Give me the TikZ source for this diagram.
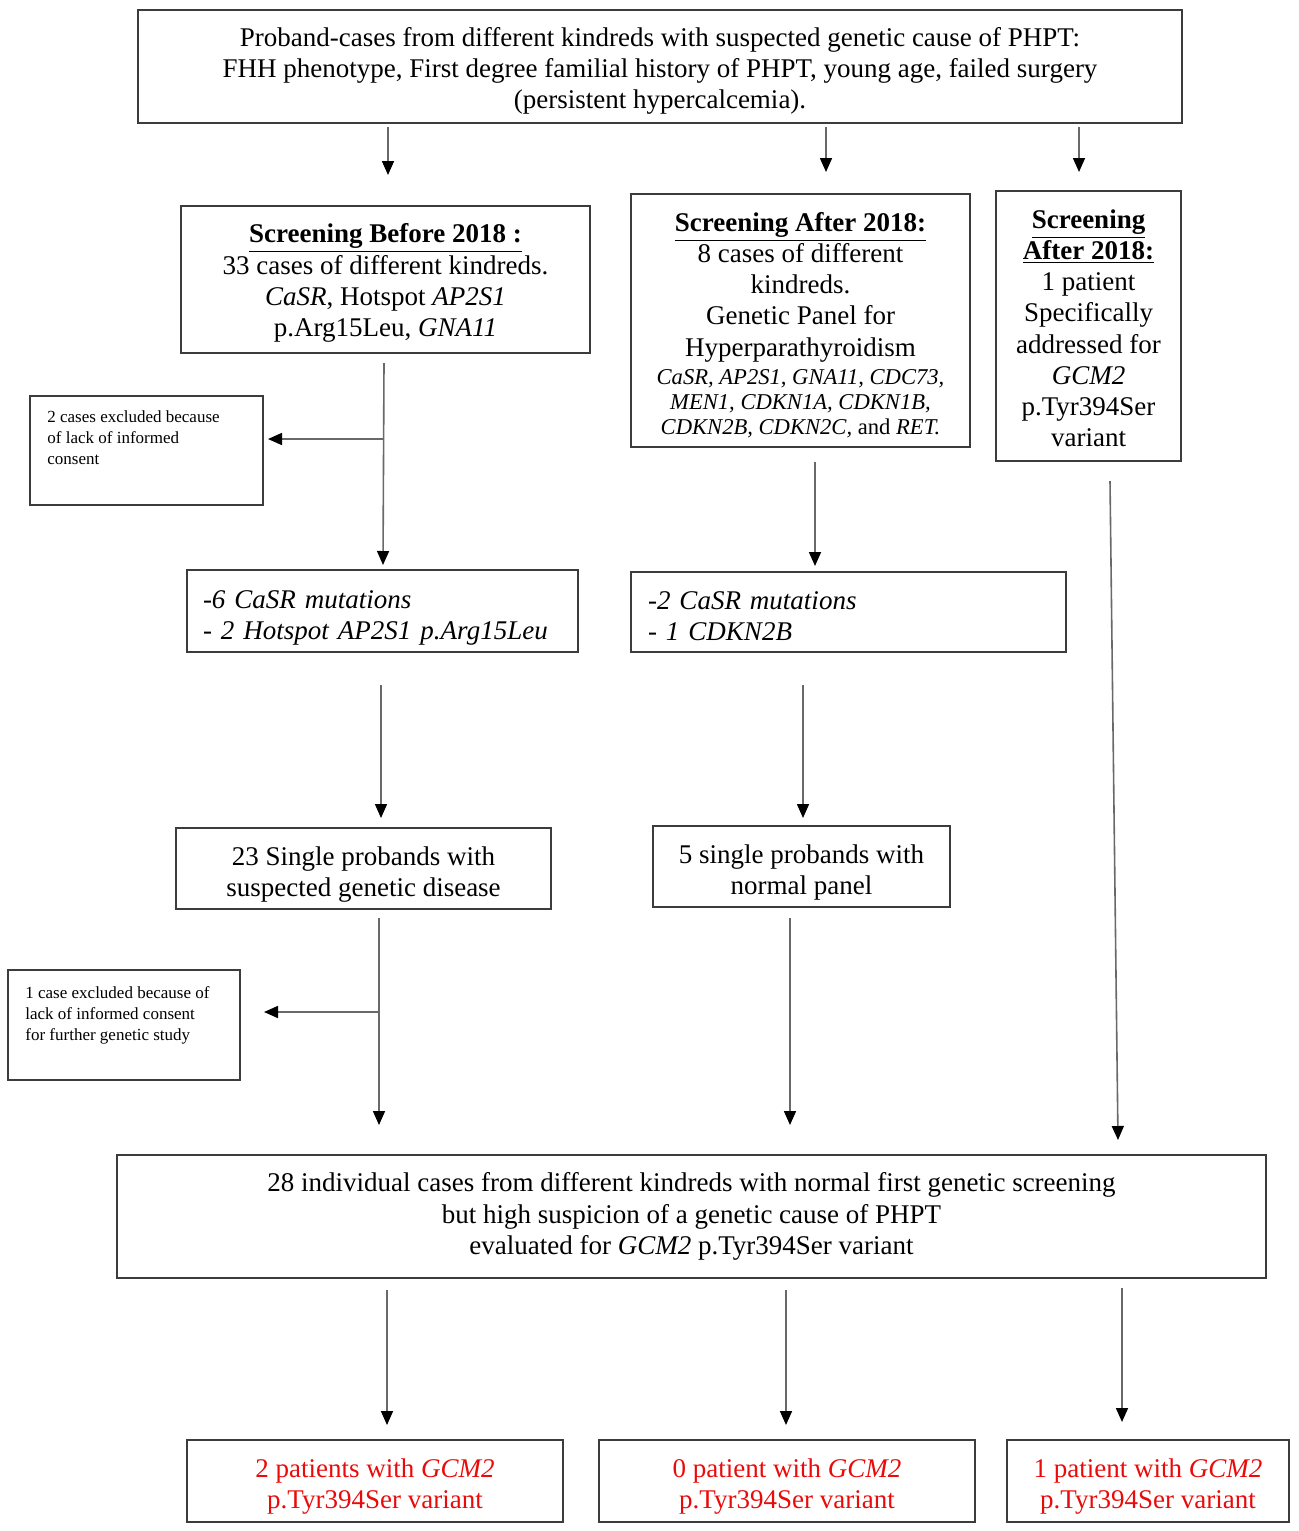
\documentclass[tikz,border=0pt]{standalone}
\usepackage{fontspec}
\setmainfont{Liberation Serif}
\usetikzlibrary{arrows.meta}
\definecolor{boxline}{RGB}{60,60,60}
\definecolor{arrline}{RGB}{105,105,105}
\definecolor{redtxt}{RGB}{235,10,10}
\newcommand\lift[1]{\rule{0pt}{#1}}
\begin{document}
\begin{tikzpicture}[x=0.5pt,y=-0.5pt,
  box/.style={draw=boxline, line width=1pt, inner sep=0pt, align=center,
    font=\fontsize{13.5}{15.6}\selectfont},
  leftbox/.style={box, align=left, inner xsep=8pt},
  smalltxt/.style={inner sep=0pt, align=left, anchor=north west,
    font=\fontsize{8.5}{10.5}\selectfont},
  arr/.style={draw=arrline, line width=0.8pt, -{Triangle[length=7pt,width=6pt,black]}},
  redbox/.style={box, text=redtxt}
  ]
\useasboundingbox (0,0) rectangle (1299,1531);

% boxes
\node[box, minimum width=522pt, minimum height=56.5pt] (top) at (660,66.5)
  {\lift{13.7pt}Proband-cases from different kindreds with suspected genetic cause of PHPT:\\
   FHH phenotype, First degree familial history of PHPT, young age, failed surgery\\
   (persistent hypercalcemia).};

\node[box, minimum width=204.5pt, minimum height=73.5pt] (b1) at (385.5,279.5)
  {\lift{13.2pt}\textbf{\underline{Screening Before 2018 :}}\\
   33 cases of different kindreds.\\
   \textit{CaSR}, Hotspot \textit{AP2S1}\\
   p.Arg15Leu, \textit{GNA11}};

\node[box, minimum width=169.5pt, minimum height=126.5pt] (b2) at (800.5,320.5)
  {\lift{14.2pt}\textbf{\underline{Screening After 2018:}}\\
   8 cases of different\\
   kindreds.\\
   Genetic Panel for\\
   Hyperparathyroidism\\[-1.5pt]
   {\fontsize{11.3}{12.5}\selectfont\itshape CaSR, AP2S1, GNA11, CDC73,}\\[-3pt]
   {\fontsize{11.3}{12.5}\selectfont\itshape MEN1, CDKN1A, CDKN1B,}\\[-3pt]
   {\fontsize{11.3}{12.5}\selectfont\itshape CDKN2B, CDKN2C, \upshape and \itshape RET.}};

\node[box, minimum width=92.5pt, minimum height=135pt] (b3) at (1088.5,326)
  {\lift{11.7pt}\textbf{\underline{Screening}}\\
   \textbf{\underline{After 2018:}}\\
   1 patient\\
   Specifically\\
   addressed for\\
   \textit{GCM2}\\
   p.Tyr394Ser\\
   variant};

\node[box, minimum width=116.5pt, minimum height=54.5pt] (ex1) at (146.5,450.5) {};
\node[smalltxt] (ex1t) at (47,410)
  {2 cases excluded because\\ of lack of informed\\ consent};

\node[leftbox, text width=179.5pt, minimum height=41pt] (m1) at (382.5,611)
  {\lift{15.7pt}\itshape -6 CaSR mutations\\ \itshape - 2 Hotspot AP2S1 p.Arg15Leu};

\node[leftbox, text width=200.5pt, minimum height=40pt, inner xsep=8.5pt] (m2) at (848.5,612)
  {\lift{13.2pt}\itshape -2 CaSR mutations\\ \itshape - 1 CDKN2B};

\node[box, minimum width=187.5pt, minimum height=40.5pt] (s1) at (363.5,868.5)
  {\lift{15.2pt}23 Single probands with\\ suspected genetic disease};

\node[box, minimum width=148.5pt, minimum height=40.5pt] (s2) at (801.5,866.5)
  {\lift{15.2pt}5 single probands with\\ normal panel};

\node[box, minimum width=116pt, minimum height=55pt] (ex2) at (124,1025) {};
\node[smalltxt] (ex2t) at (25,986)
  {1 case excluded because of\\ lack of informed consent\\ for further genetic study};

\node[box, minimum width=574.5pt, minimum height=61.5pt] (c) at (691.5,1216.5)
  {28 individual cases from different kindreds with normal first genetic screening\\
   but high suspicion of a genetic cause of PHPT\\
   evaluated for \textit{GCM2} p.Tyr394Ser variant};

\node[redbox, minimum width=188pt, minimum height=41pt] (r1) at (375,1481)
  {\lift{15.2pt}2 patients with \textit{GCM2}\\ p.Tyr394Ser variant};
\node[redbox, minimum width=188pt, minimum height=41pt] (r2) at (787,1481)
  {\lift{15.2pt}0 patient with \textit{GCM2}\\ p.Tyr394Ser variant};
\node[redbox, minimum width=141pt, minimum height=41pt] (r3) at (1148,1481)
  {\lift{15.2pt}1 patient with \textit{GCM2}\\ p.Tyr394Ser variant};

% arrow end points
\coordinate (a1s) at (388,127);  \coordinate (a1e) at (388,175);
\coordinate (a2s) at (826,127);  \coordinate (a2e) at (826,172);
\coordinate (a3s) at (1079,127); \coordinate (a3e) at (1079,172);
\coordinate (a4s) at (384,363);  \coordinate (a4e) at (383,565);
\coordinate (a5s) at (384,439);  \coordinate (a5e) at (268,439);
\coordinate (a6s) at (815,462);  \coordinate (a6e) at (815,566);
\coordinate (a7s) at (381,685);  \coordinate (a7e) at (381,818);
\coordinate (a8s) at (803,685);  \coordinate (a8e) at (803,818);
\coordinate (a9s) at (379,918);  \coordinate (a9e) at (379,1125);
\coordinate (a10s) at (379,1012); \coordinate (a10e) at (264,1012);
\coordinate (a11s) at (790,918); \coordinate (a11e) at (790,1125);
\coordinate (a12s) at (1110,481); \coordinate (a12e) at (1118,1140);
\coordinate (a13s) at (387,1290); \coordinate (a13e) at (387,1425);
\coordinate (a14s) at (786,1290); \coordinate (a14e) at (786,1425);
\coordinate (a15s) at (1122,1288); \coordinate (a15e) at (1122,1422);

\foreach \i in {1,...,15} { \draw[arr] (a\i s) -- (a\i e); }
\end{tikzpicture}
\end{document}
